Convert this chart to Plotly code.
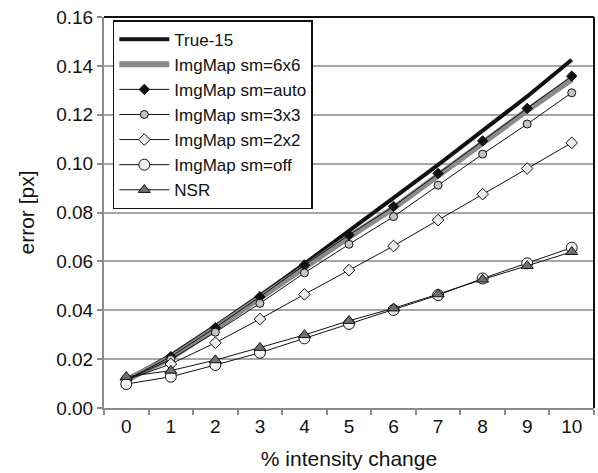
import plotly.graph_objects as go

# % intensity change (categories on the x axis)
categories = ["0", "1", "2", "3", "4", "5", "6", "7", "8", "9", "10"]

# error [px] per method
true_15 = [0.0115, 0.0215, 0.0335, 0.0460, 0.0590, 0.0725, 0.0855, 0.0995, 0.1135, 0.1275, 0.1425]
sm_6x6 = [0.0115, 0.0205, 0.0325, 0.0450, 0.0578, 0.0700, 0.0818, 0.0952, 0.1083, 0.1218, 0.1345]
sm_auto = [0.0115, 0.0210, 0.0329, 0.0455, 0.0585, 0.0708, 0.0825, 0.0960, 0.1093, 0.1226, 0.1358]
sm_3x3 = [0.0115, 0.0199, 0.0310, 0.0428, 0.0553, 0.0670, 0.0783, 0.0912, 0.1039, 0.1162, 0.1290]
sm_2x2 = [0.0115, 0.0180, 0.0267, 0.0364, 0.0465, 0.0564, 0.0663, 0.0769, 0.0875, 0.0980, 0.1085]
sm_off = [0.0098, 0.0128, 0.0176, 0.0226, 0.0285, 0.0344, 0.0401, 0.0462, 0.0530, 0.0592, 0.0656]
nsr = [0.0128, 0.0153, 0.0196, 0.0247, 0.0299, 0.0357, 0.0408, 0.0466, 0.0526, 0.0582, 0.0639]

y_ticks = [0.00, 0.02, 0.04, 0.06, 0.08, 0.10, 0.12, 0.14, 0.16]

FONT = "Liberation Sans, Arial, sans-serif"

fig = go.Figure()

fig.add_trace(go.Scatter(x=categories, y=true_15, name="True-15", mode="lines",
                         line=dict(color="#111111", width=4)))
fig.add_trace(go.Scatter(x=categories, y=sm_6x6, name="ImgMap sm=6x6", mode="lines",
                         line=dict(color="#8a8a8a", width=6)))
fig.add_trace(go.Scatter(x=categories, y=sm_auto, name="ImgMap sm=auto", mode="lines+markers",
                         line=dict(color="#111111", width=1),
                         marker=dict(symbol="diamond", size=8, color="#111111",
                                     line=dict(color="#111111", width=1))))
fig.add_trace(go.Scatter(x=categories, y=sm_3x3, name="ImgMap sm=3x3", mode="lines+markers",
                         line=dict(color="#111111", width=1),
                         marker=dict(symbol="circle", size=8, color="#c4c4c4",
                                     line=dict(color="#111111", width=1))))
fig.add_trace(go.Scatter(x=categories, y=sm_2x2, name="ImgMap sm=2x2", mode="lines+markers",
                         line=dict(color="#111111", width=1),
                         marker=dict(symbol="diamond", size=9, color="#ececec",
                                     line=dict(color="#111111", width=1))))
fig.add_trace(go.Scatter(x=categories, y=sm_off, name="ImgMap sm=off", mode="lines+markers",
                         line=dict(color="#111111", width=1),
                         marker=dict(symbol="circle", size=11, color="#f4f4f4",
                                     line=dict(color="#111111", width=1))))
fig.add_trace(go.Scatter(x=categories, y=nsr, name="NSR", mode="lines+markers",
                         line=dict(color="#111111", width=1),
                         marker=dict(symbol="triangle-up", size=10.5, color="#707070",
                                     line=dict(color="#111111", width=1))))

fig.update_layout(
    width=598, height=473,
    margin=dict(l=104, r=4, t=17, b=65),
    paper_bgcolor="white", plot_bgcolor="white",
    font=dict(family=FONT, size=19, color="#111111"),
    showlegend=True,
    legend=dict(
        x=0.018, y=0.992, xanchor="left", yanchor="top",
        bgcolor="white", bordercolor="#111111", borderwidth=1.5,
        font=dict(family=FONT, size=17, color="#111111"),
        itemwidth=50, tracegroupgap=0,
    ),
    xaxis=dict(
        type="category", tickson="boundaries",
        showgrid=False, showline=True, linecolor="#8c8c8c", linewidth=2,
        ticks="outside", ticklen=5, tickcolor="#8c8c8c", tickwidth=1.5,
        tickfont=dict(size=19),
        title=dict(text="% intensity change", font=dict(size=21), standoff=16),
        range=[-0.5, 10.5],
    ),
    yaxis=dict(
        range=[0, 0.16], tickvals=y_ticks, tickformat=".2f",
        showgrid=True, gridcolor="#a6a6a6", gridwidth=1.5,
        showline=True, linecolor="#8c8c8c", linewidth=2,
        ticks="outside", ticklen=5, tickcolor="#8c8c8c", tickwidth=1.5,
        tickfont=dict(size=19), zeroline=False,
        title=dict(text="error [px]", font=dict(size=21), standoff=16),
    ),
    shapes=[
        dict(type="line", xref="paper", yref="paper", x0=0, x1=1, y0=1, y1=1,
             line=dict(color="#111111", width=2)),
        dict(type="line", xref="paper", yref="paper", x0=1, x1=1, y0=0, y1=1,
             line=dict(color="#111111", width=2)),
    ],
)

fig.write_html("out.html")
